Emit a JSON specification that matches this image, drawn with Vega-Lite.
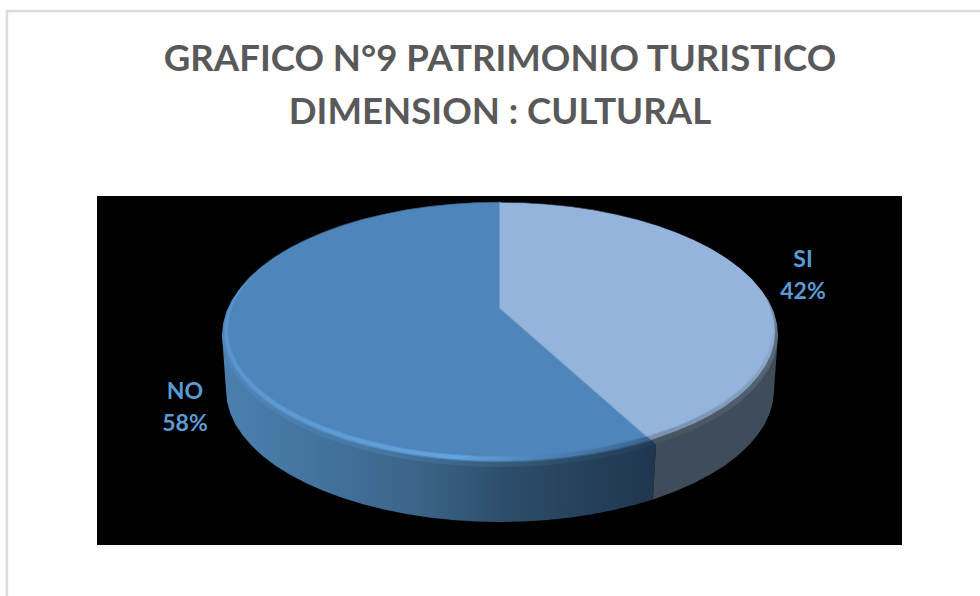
{"$schema":"https://vega.github.io/schema/vega-lite/v6.json","width":980,"height":596,"padding":0,"autosize":"none","background":"#ffffff",
"title":{"text":["GRAFICO N°9 PATRIMONIO TURISTICO","DIMENSION : CULTURAL"],"font":"Lato","fontSize":36.6,"fontWeight":"bold","color":"#595959","lineHeight":53,"anchor":"middle","dx":10,"dy":136},
"projection":{"type":"identity","reflectY":true,"scale":1,"translate":[500,335]},
"datasets":{"shapes":[
{"type":"Feature","properties":{"part":"frame"},"geometry":{"type":"Polygon","coordinates":[[[-493,324],[495,324],[495,-280],[-493,-280],[-493,324]]]}},
{"type":"Feature","properties":{"part":"plot"},"geometry":{"type":"Polygon","coordinates":[[[-403,139],[402,139],[402,-210],[-403,-210],[-403,139]]]}},
{"type":"Feature","properties":{"part":"side","slice":"NO","value":58},"geometry":{"type":"Polygon","coordinates":[[[-278,0],[-274,-55],[-273,-66.5],[-269.8,-77.9],[-264.7,-89.2],[-257.5,-100.1],[-248.3,-110.8],[-237.3,-121],[-224.5,-130.7],[-209.9,-139.8],[-193.7,-148.3],[-176.1,-156.1],[-157.2,-163.1],[-137,-169.3],[-115.8,-174.6],[-93.7,-179],[-70.9,-182.5],[-47.6,-185],[-23.9,-186.5],[0,-187],[23.9,-186.5],[47.6,-185],[70.9,-182.5],[93.7,-179],[115.8,-174.6],[137,-169.3],[153,-164.5],[156,-109.3],[0,0],[-278,0]]]}},
{"type":"Feature","properties":{"part":"side","slice":"SI","value":42},"geometry":{"type":"Polygon","coordinates":[[[153,-164.5],[157.2,-163.1],[176.1,-156.1],[193.7,-148.3],[209.9,-139.8],[224.5,-130.7],[237.3,-121],[248.3,-110.8],[257.5,-100.1],[264.7,-89.2],[269.8,-77.9],[273,-66.5],[274,-55],[278,0],[0,0],[156,-109.3],[153,-164.5]]]}},
{"type":"Feature","properties":{"part":"outer","slice":"NO","value":58},"geometry":{"type":"Polygon","coordinates":[[[0,27],[0,132],[-24.2,131.5],[-48.3,130],[-71.9,127.5],[-95.1,124],[-117.5,119.6],[-139,114.3],[-159.5,108.1],[-178.7,101.1],[-196.6,93.3],[-213,84.8],[-227.7,75.7],[-240.8,66],[-252,55.8],[-261.2,45.1],[-268.5,34.2],[-273.8,22.9],[-276.9,11.5],[-278,0],[-276.9,-11.5],[-273.8,-22.9],[-268.5,-34.2],[-261.2,-45.1],[-252,-55.8],[-240.8,-66],[-227.7,-75.7],[-213,-84.8],[-196.6,-93.3],[-178.7,-101.1],[-159.5,-108.1],[-139,-114.3],[-117.5,-119.6],[-95.1,-124],[-71.9,-127.5],[-48.3,-130],[-24.2,-131.5],[0,-132],[24.2,-131.5],[48.3,-130],[71.9,-127.5],[95.1,-124],[117.5,-119.6],[139,-114.3],[156,-109.3],[0,27]]]}},
{"type":"Feature","properties":{"part":"outer","slice":"SI","value":42},"geometry":{"type":"Polygon","coordinates":[[[0,27],[0,132],[24.2,131.5],[48.3,130],[71.9,127.5],[95.1,124],[117.5,119.6],[139,114.3],[159.5,108.1],[178.7,101.1],[196.6,93.3],[213,84.8],[227.7,75.7],[240.8,66],[252,55.8],[261.2,45.1],[268.5,34.2],[273.8,22.9],[276.9,11.5],[278,0],[276.9,-11.5],[273.8,-22.9],[268.5,-34.2],[261.2,-45.1],[252,-55.8],[240.8,-66],[227.7,-75.7],[213,-84.8],[196.6,-93.3],[178.7,-101.1],[159.5,-108.1],[156,-109.3],[0,27]]]}},
{"type":"Feature","properties":{"part":"mid","slice":"NO","value":58},"geometry":{"type":"Polygon","coordinates":[[[0,27],[0,132],[-24,131.5],[-47.7,130],[-71.2,127.6],[-94.1,124.2],[-116.2,119.9],[-137.5,114.7],[-157.7,108.7],[-176.8,101.8],[-194.5,94.2],[-210.7,85.9],[-225.3,77],[-238.2,67.5],[-249.2,57.5],[-258.4,47.1],[-265.6,36.4],[-270.8,25.4],[-274,14.2],[-275,3],[-274,-8.2],[-270.8,-19.4],[-265.6,-30.4],[-258.4,-41.1],[-249.2,-51.5],[-238.2,-61.5],[-225.3,-71],[-210.7,-79.9],[-194.5,-88.2],[-176.8,-95.8],[-157.7,-102.7],[-137.5,-108.7],[-116.2,-113.9],[-94.1,-118.2],[-71.2,-121.6],[-47.7,-124],[-24,-125.5],[0,-126],[24,-125.5],[47.7,-124],[71.2,-121.6],[94.1,-118.2],[116.2,-113.9],[137.5,-108.7],[151,-104.9],[0,27]]]}},
{"type":"Feature","properties":{"part":"mid","slice":"SI","value":42},"geometry":{"type":"Polygon","coordinates":[[[0,27],[0,132],[24,131.5],[47.7,130],[71.2,127.6],[94.1,124.2],[116.2,119.9],[137.5,114.7],[157.7,108.7],[176.8,101.8],[194.5,94.2],[210.7,85.9],[225.3,77],[238.2,67.5],[249.2,57.5],[258.4,47.1],[265.6,36.4],[270.8,25.4],[274,14.2],[275,3],[274,-8.2],[270.8,-19.4],[265.6,-30.4],[258.4,-41.1],[249.2,-51.5],[238.2,-61.5],[225.3,-71],[210.7,-79.9],[194.5,-88.2],[176.8,-95.8],[157.7,-102.7],[151,-104.9],[0,27]]]}},
{"type":"Feature","properties":{"part":"face","slice":"NO","value":58},"geometry":{"type":"Polygon","coordinates":[[[0,27],[0,132],[-23.7,131.5],[-47.2,130.1],[-70.4,127.7],[-93,124.4],[-114.9,120.1],[-136,115.1],[-156,109.1],[-174.8,102.4],[-192.3,94.9],[-208.4,86.8],[-222.8,78.1],[-235.6,68.8],[-246.5,59],[-255.6,48.8],[-262.7,38.2],[-267.9,27.5],[-271,16.5],[-272,5.5],[-271,-5.5],[-267.9,-16.5],[-262.7,-27.2],[-255.6,-37.8],[-246.5,-48],[-235.6,-57.8],[-222.8,-67.1],[-208.4,-75.8],[-192.3,-83.9],[-174.8,-91.4],[-156,-98.1],[-136,-104.1],[-114.9,-109.1],[-93,-113.4],[-70.4,-116.7],[-47.2,-119.1],[-23.7,-120.5],[0,-121],[23.7,-120.5],[47.2,-119.1],[70.4,-116.7],[93,-113.4],[114.9,-109.1],[136,-104.1],[146.5,-101],[0,27]]]}},
{"type":"Feature","properties":{"part":"face","slice":"SI","value":42},"geometry":{"type":"Polygon","coordinates":[[[0,27],[0,132],[23.7,131.5],[47.2,130.1],[70.4,127.7],[93,124.4],[114.9,120.1],[136,115.1],[156,109.1],[174.8,102.4],[192.3,94.9],[208.4,86.8],[222.8,78.1],[235.6,68.8],[246.5,59],[255.6,48.8],[262.7,38.2],[267.9,27.5],[271,16.5],[272,5.5],[271,-5.5],[267.9,-16.5],[262.7,-27.2],[255.6,-37.8],[246.5,-48],[235.6,-57.8],[222.8,-67.1],[208.4,-75.8],[192.3,-83.9],[174.8,-91.4],[156,-98.1],[146.5,-101],[0,27]]]}}
],
"labels":[{"slice":"SI","value":42,"label":"SI\n42%","lon":303,"lat":75},{"slice":"NO","value":58,"label":"NO\n58%","lon":-315,"lat":-57}]},
"data":{"name":"shapes"},
"layer":[
{"transform":[{"filter":"datum.properties.part=='frame'"}],"mark":{"type":"geoshape","fill":"#ffffff","stroke":"#dcdcdc","strokeWidth":2.5}},
{"transform":[{"filter":"datum.properties.part=='plot'"}],"mark":{"type":"geoshape","fill":"#000000","stroke":null}},
{"transform":[{"filter":"datum.properties.part=='side' && datum.properties.slice=='NO'"}],"mark":{"type":"geoshape","stroke":null,"fill":{"gradient":"linear","x1":0,"x2":1,"y1":0,"y2":0,"stops":[{"offset":0,"color":"#4b80af"},{"offset":0.25,"color":"#42719b"},{"offset":0.45,"color":"#3b6488"},{"offset":0.65,"color":"#2d4e6b"},{"offset":0.8,"color":"#27435e"},{"offset":1,"color":"#20364e"}]}}},
{"transform":[{"filter":"datum.properties.part=='side' && datum.properties.slice=='SI'"}],"mark":{"type":"geoshape","stroke":null,"fill":"#3f4d5b"}},
{"transform":[{"filter":"datum.properties.part=='outer' && datum.properties.slice=='NO'"}],"mark":{"type":"geoshape","stroke":null,"fill":{"gradient":"linear","x1":0,"x2":1,"y1":0,"y2":0,"stops":[{"offset":0,"color":"#4f86bb"},{"offset":0.4,"color":"#44749f"},{"offset":0.7,"color":"#325673"},{"offset":1,"color":"#223c57"}]}}},
{"transform":[{"filter":"datum.properties.part=='outer' && datum.properties.slice=='SI'"}],"mark":{"type":"geoshape","stroke":null,"fill":{"gradient":"linear","x1":0,"x2":0,"y1":0,"y2":1,"stops":[{"offset":0,"color":"#95b4dc"},{"offset":0.35,"color":"#95b4dc"},{"offset":0.55,"color":"#5d6d80"},{"offset":1,"color":"#46535f"}]}}},
{"transform":[{"filter":"datum.properties.part=='mid' && datum.properties.slice=='NO'"}],"mark":{"type":"geoshape","strokeWidth":2.5,"strokeOpacity":0.5,"stroke":{"gradient":"linear","x1":0,"x2":1,"y1":0,"y2":0,"stops":[{"offset":0,"color":"#5a97d0"},{"offset":0.55,"color":"#5f9ed9"},{"offset":0.72,"color":"#4f86bb"},{"offset":1,"color":"#2f5778"}]},"fill":{"gradient":"linear","x1":0,"x2":1,"y1":0,"y2":0,"stops":[{"offset":0,"color":"#5a97d0"},{"offset":0.55,"color":"#63a3e0"},{"offset":0.72,"color":"#4f86bb"},{"offset":1,"color":"#3a6690"}]}}},
{"transform":[{"filter":"datum.properties.part=='mid' && datum.properties.slice=='SI'"}],"mark":{"type":"geoshape","stroke":null,"fill":{"gradient":"linear","x1":0,"x2":0,"y1":0,"y2":1,"stops":[{"offset":0,"color":"#95b4dc"},{"offset":0.45,"color":"#95b4dc"},{"offset":1,"color":"#7a90ab"}]}}},
{"transform":[{"filter":"datum.properties.part=='face'"}],"mark":{"type":"geoshape","strokeWidth":2,"strokeOpacity":0.5},"encoding":{"color":{"field":"properties.slice","type":"nominal","scale":{"domain":["SI","NO"],"range":["#95b4dc","#4e85ba"]},"legend":null},"stroke":{"field":"properties.slice","type":"nominal","scale":{"domain":["SI","NO"],"range":["#95b4dc","#4e85ba"]},"legend":null}}},
{"data":{"name":"labels"},"mark":{"type":"text","font":"Lato","fontSize":23,"fontWeight":"bold","color":"#5b9bd5","lineBreak":"\n","lineHeight":32,"align":"center","baseline":"middle"},"encoding":{"longitude":{"field":"lon","type":"quantitative"},"latitude":{"field":"lat","type":"quantitative"},"text":{"field":"label","type":"nominal"}}}
]}
